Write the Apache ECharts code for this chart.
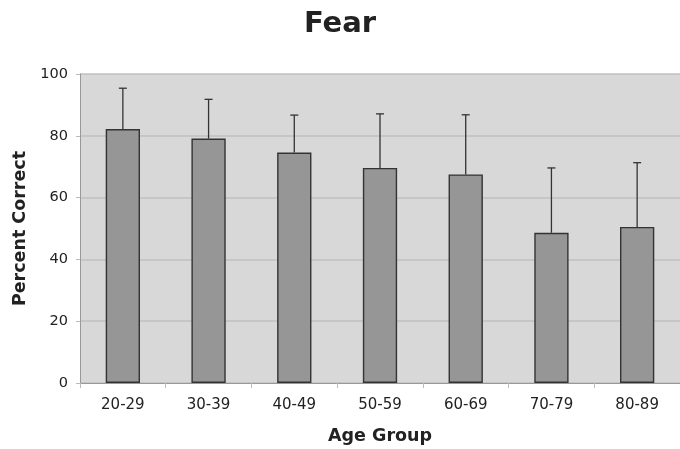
<!DOCTYPE html>
<html>
<head>
<meta charset="utf-8">
<script src="https://cdn.jsdelivr.net/npm/echarts@6/dist/echarts.min.js"></script>
<style>
  html, body { margin: 0; padding: 0; background: #fff; }
  #chart { width: 680px; height: 449px; }
</style>
</head>
<body>
<div id="chart"></div>
<script>
// age groups and mean percent correct
const groups = ['20-29', '30-39', '40-49', '50-59', '60-69', '70-79', '80-89'];
const means = [82.2, 79.1, 74.6, 69.6, 67.5, 48.6, 50.5];
// top of each error bar (mean + SD)
const upper = [95.4, 91.8, 86.7, 87.1, 86.8, 69.6, 71.3];
const yTicks = [0, 20, 40, 60, 80, 100];

const chart = echarts.init(document.getElementById('chart'));
const font = 'DejaVu Sans';

chart.setOption({
  animation: false,
  title: {
    text: 'Fear',
    left: 'center',
    top: 5,
    textStyle: { fontFamily: font, fontSize: 29, fontWeight: 'bold', color: '#222' }
  },
  grid: {
    left: 80, right: 0, top: 74, bottom: 66,
    outerBoundsMode: 'none',
    show: true, backgroundColor: '#d8d8d8', borderWidth: 0
  },
  xAxis: {
    type: 'category',
    data: groups,
    name: 'Age Group',
    nameLocation: 'middle',
    nameGap: 44,
    nameTextStyle: { fontFamily: font, fontSize: 17.5, fontWeight: 'bold', color: '#222' },
    axisLine: { lineStyle: { color: '#999', width: 1 } },
    axisTick: { show: true, length: 5, lineStyle: { color: '#bbb' } },
    axisLabel: { fontFamily: font, fontSize: 15, color: '#222', margin: 15 }
  },
  yAxis: {
    type: 'value',
    min: yTicks[0],
    max: yTicks[yTicks.length - 1],
    interval: 20,
    name: 'Percent Correct',
    nameLocation: 'middle',
    nameGap: 50,
    nameTextStyle: { fontFamily: font, fontSize: 17.5, fontWeight: 'bold', color: '#222' },
    axisLine: { show: true, lineStyle: { color: '#999', width: 1 } },
    axisTick: { show: true, length: 4, lineStyle: { color: '#bbb' } },
    axisLabel: { fontFamily: font, fontSize: 14.5, color: '#222', margin: 12 },
    splitLine: { lineStyle: { color: '#c0c0c0', width: 1.5 } }
  },
  series: [
    {
      type: 'bar',
      data: means,
      barWidth: '40%',
      itemStyle: { color: '#969696', borderColor: '#333', borderWidth: 1.4 }
    },
    {
      // upward error bars with a small cap
      type: 'custom',
      data: groups.map((g, i) => [i, means[i], upper[i]]),
      z: 3,
      renderItem: function (params, api) {
        const base = api.coord([api.value(0), api.value(1)]);
        const top = api.coord([api.value(0), api.value(2)]);
        const cap = 4;
        const style = { stroke: '#333', lineWidth: 1.3 };
        return {
          type: 'group',
          children: [
            { type: 'line', shape: { x1: base[0], y1: base[1], x2: top[0], y2: top[1] }, style: style },
            { type: 'line', shape: { x1: top[0] - cap, y1: top[1], x2: top[0] + cap, y2: top[1] }, style: style }
          ]
        };
      }
    }
  ]
});
</script>
</body>
</html>
